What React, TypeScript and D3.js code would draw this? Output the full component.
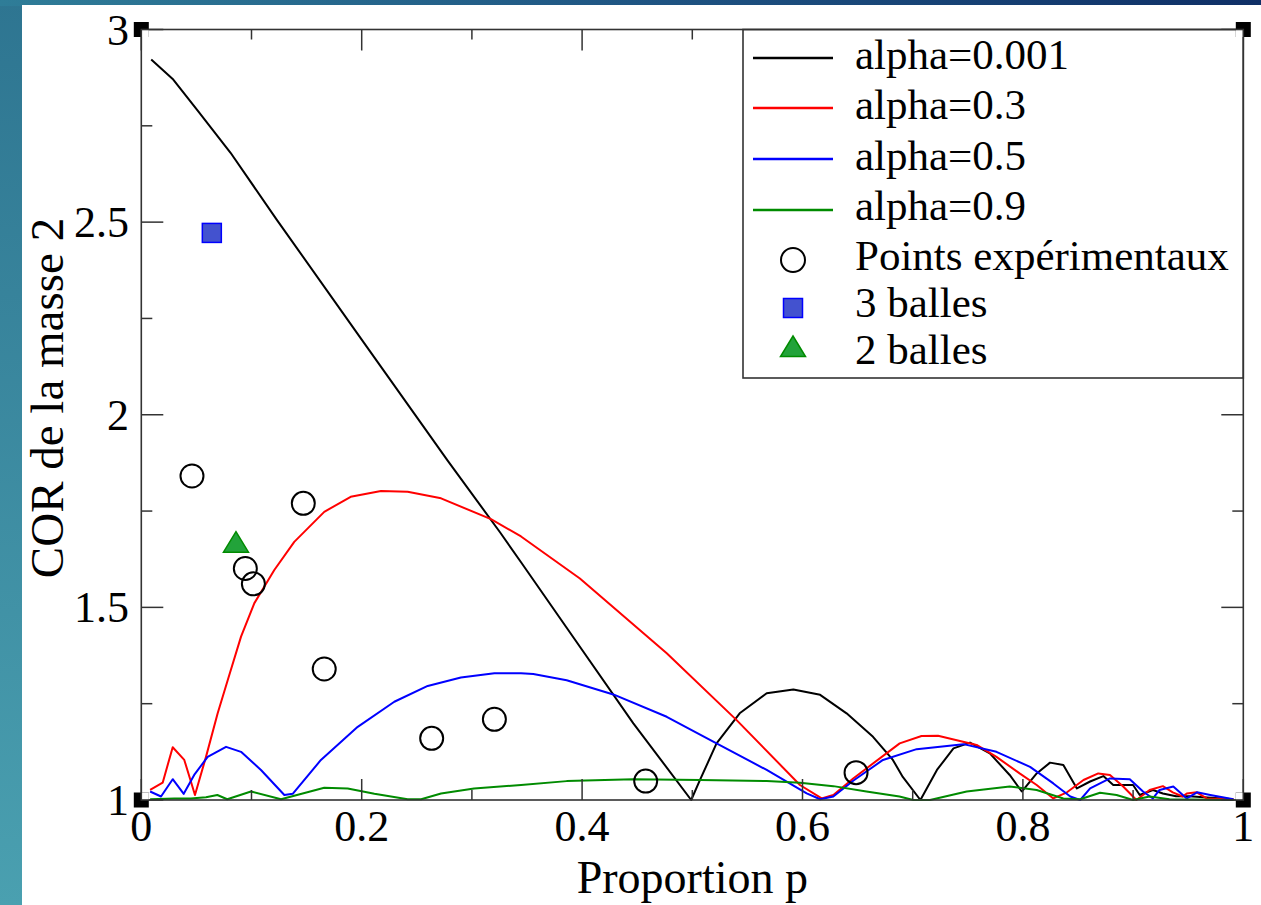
import * as d3 from "d3"

// p (proportion) / COR values
const curveAlpha0001: [number, number][] = [
  [0.009, 2.922], [0.029, 2.87], [0.051, 2.79], [0.081, 2.68], [0.123, 2.506],
  [0.2, 2.195], [0.278, 1.881], [0.3255, 1.695], [0.3446, 1.617], [0.386, 1.447],
  [0.4465, 1.199], [0.499, 1.0], [0.507, 1.052], [0.522, 1.147], [0.543, 1.225],
  [0.5675, 1.277], [0.5917, 1.287], [0.616, 1.273], [0.64, 1.225], [0.664, 1.164],
  [0.682, 1.104], [0.691, 1.06], [0.707, 1.0], [0.722, 1.078], [0.737, 1.134],
  [0.752, 1.149], [0.77, 1.121], [0.788, 1.065], [0.799, 1.022], [0.8125, 1.069],
  [0.8246, 1.097], [0.8367, 1.091], [0.849, 1.03], [0.861, 1.048], [0.873, 1.062],
  [0.882, 1.039], [0.9, 1.039], [0.906, 1.013], [0.918, 1.026], [0.927, 1.017],
  [0.939, 1.01], [0.951, 1.01], [0.964, 1.007], [0.991, 1.002],
]

const curveAlpha03: [number, number][] = [
  [0.008, 1.026], [0.0194, 1.045], [0.0285, 1.137], [0.039, 1.104], [0.045, 1.048],
  [0.0487, 1.013], [0.0587, 1.112], [0.0693, 1.225], [0.0784, 1.311], [0.0905, 1.424],
  [0.1026, 1.511], [0.1207, 1.597], [0.1388, 1.67], [0.166, 1.748], [0.19, 1.787],
  [0.2175, 1.802], [0.2417, 1.8], [0.272, 1.783], [0.3173, 1.729], [0.3446, 1.684],
  [0.398, 1.575], [0.4768, 1.381], [0.54, 1.208], [0.5977, 1.039], [0.6174, 1.004],
  [0.628, 1.013], [0.646, 1.056], [0.6882, 1.147], [0.708, 1.166], [0.723, 1.167],
  [0.758, 1.143], [0.776, 1.112], [0.797, 1.069], [0.8125, 1.039], [0.8276, 1.004],
  [0.84, 1.02], [0.855, 1.052], [0.8684, 1.069], [0.879, 1.065], [0.891, 1.035],
  [0.903, 1.0], [0.915, 1.026], [0.927, 1.036], [0.936, 1.02], [0.945, 1.009],
  [0.9487, 1.017], [0.9577, 1.02], [0.9668, 1.004], [0.991, 1.002],
]

const curveAlpha05: [number, number][] = [
  [0.008, 1.022], [0.0179, 1.009], [0.0285, 1.054], [0.0385, 1.016], [0.048, 1.065],
  [0.0602, 1.112], [0.0769, 1.138], [0.0905, 1.125], [0.1086, 1.078], [0.1298, 1.013],
  [0.1374, 1.016], [0.163, 1.104], [0.1964, 1.19], [0.2296, 1.255], [0.2599, 1.296],
  [0.29, 1.318], [0.3204, 1.329], [0.3446, 1.329], [0.3557, 1.327], [0.386, 1.311],
  [0.4283, 1.274], [0.4768, 1.216], [0.522, 1.147], [0.5675, 1.078], [0.6038, 1.017],
  [0.616, 1.002], [0.628, 1.009], [0.646, 1.05], [0.673, 1.104], [0.7036, 1.132],
  [0.746, 1.145], [0.776, 1.125], [0.8065, 1.086], [0.8276, 1.043], [0.843, 1.009],
  [0.852, 1.0], [0.861, 1.03], [0.879, 1.056], [0.897, 1.054], [0.909, 1.022],
  [0.918, 1.004], [0.924, 1.026], [0.9365, 1.035], [0.9487, 1.004], [0.958, 1.02],
  [0.97, 1.013], [0.991, 1.002],
]

const curveAlpha09: [number, number][] = [
  [0.008, 1.002], [0.03, 1.004], [0.045, 1.004], [0.0587, 1.007], [0.069, 1.013],
  [0.078, 1.002], [0.0995, 1.022], [0.1268, 1.002], [0.166, 1.032], [0.1873, 1.03],
  [0.2115, 1.016], [0.2417, 1.002], [0.254, 1.002], [0.272, 1.017], [0.302, 1.03],
  [0.3446, 1.039], [0.386, 1.049], [0.4465, 1.054], [0.507, 1.052], [0.5675, 1.049],
  [0.5977, 1.045], [0.628, 1.036], [0.658, 1.022], [0.688, 1.009], [0.7005, 1.0],
  [0.7157, 1.0], [0.749, 1.022], [0.788, 1.035], [0.8125, 1.026], [0.8367, 1.004],
  [0.852, 1.002], [0.87, 1.019], [0.885, 1.013], [0.9, 1.0], [0.915, 1.009],
  [0.933, 1.002], [0.991, 1.0],
]

const pointsExp: [number, number][] = [
  [0.046, 1.841], [0.147, 1.77], [0.0944, 1.601], [0.1017, 1.561], [0.166, 1.34],
  [0.2635, 1.16], [0.3204, 1.2095], [0.4577, 1.049], [0.6486, 1.071],
]
const points3Balles: [number, number][] = [[0.064, 2.472]]
const points2Balles: [number, number][] = [[0.0859, 1.668]]

const xTicks = [0, 0.1, 0.2, 0.3, 0.4, 0.5, 0.6, 0.7, 0.8, 0.9, 1]
const xTickLabels = ["0", "", "0.2", "", "0.4", "", "0.6", "", "0.8", "", "1"]
const yTicks = [1, 1.25, 1.5, 1.75, 2, 2.25, 2.5, 2.75, 3]
const yTickLabels = ["1", "", "1.5", "", "2", "", "2.5", "", "3"]

const lineSeries = [
  { name: "alpha=0.001", color: "#000000", data: curveAlpha0001 },
  { name: "alpha=0.3", color: "#ff0000", data: curveAlpha03 },
  { name: "alpha=0.5", color: "#0000ff", data: curveAlpha05 },
  { name: "alpha=0.9", color: "#008b00", data: curveAlpha09 },
]

const W = 1261
const H = 905
const left = 141.3
const right = 1243.3
const top = 29.5
const bottom = 800
const FONT = "'Liberation Serif', 'Times New Roman', serif"
const AXIS = "#333"

function Triangle({ cx, cy }: { cx: number; cy: number }) {
  const pts = [[cx, cy - 11], [cx + 12.5, cy + 9.5], [cx - 12.5, cy + 9.5]]
  return <polygon points={pts.map(p => p.join(",")).join(" ")} fill="#22a33a" stroke="#008b00" strokeWidth={1.5} />
}

function Square({ cx, cy }: { cx: number; cy: number }) {
  return <rect x={cx - 9.5} y={cy - 9.5} width={19} height={19} fill="#4352cf" stroke="#0000ff" strokeWidth={1.5} />
}

export default function App() {
  const x = d3.scaleLinear().domain([0, 1]).range([left, right])
  const y = d3.scaleLinear().domain([1, 3]).range([bottom, top])
  const line = d3.line<[number, number]>().x(d => x(d[0])).y(d => y(d[1]))

  const corners = [
    { cx: left, cy: top, sx: 1, sy: 1 },
    { cx: right, cy: top, sx: -1, sy: 1 },
    { cx: left, cy: bottom, sx: 1, sy: -1 },
    { cx: right, cy: bottom, sx: -1, sy: -1 },
  ]

  // legend layout
  const lgX = 743, lgY = top, lgW = right - 743, lgH = 378 - top
  const rowY = [58, 108, 159, 210, 260, 308, 347]
  const textY = [69, 119, 170, 220, 270, 317, 364]
  const textX = 855

  return (
    <svg width={W} height={H} style={{ position: "absolute", left: 0, top: 0 }} fontFamily={FONT}>
      <defs>
        <linearGradient id="topband" x1="0" x2="1" y1="0" y2="0">
          <stop offset="0" stopColor="#2f7d98" />
          <stop offset="0.5" stopColor="#1f5583" />
          <stop offset="1" stopColor="#0f2f66" />
        </linearGradient>
        <linearGradient id="leftband" x1="0" x2="0" y1="0" y2="1">
          <stop offset="0" stopColor="#2e7591" />
          <stop offset="1" stopColor="#4aa0b0" />
        </linearGradient>
      </defs>
      <rect x={0} y={0} width={W} height={H} fill="url(#leftband)" />
      <rect x={0} y={0} width={W} height={6} fill="url(#topband)" />
      <rect x={22} y={5} width={W - 22} height={H - 5} fill="#ffffff" />

      {/* curves */}
      {lineSeries.map(s => (
        <path key={s.name} d={line(s.data) ?? ""} fill="none" stroke={s.color} strokeWidth={2} strokeLinejoin="round" />
      ))}

      {/* markers */}
      {pointsExp.map((d, i) => (
        <circle key={i} cx={x(d[0])} cy={y(d[1])} r={11.5} fill="none" stroke="#000" strokeWidth={2} />
      ))}
      {points3Balles.map((d, i) => <Square key={i} cx={x(d[0])} cy={y(d[1])} />)}
      {points2Balles.map((d, i) => <Triangle key={i} cx={x(d[0])} cy={y(d[1])} />)}

      {/* ticks */}
      {xTicks.map((t, i) => {
        const len = i % 2 === 0 ? 21 : 10
        return (
          <g key={"x" + t} stroke={AXIS} strokeWidth={1.5}>
            <line x1={x(t)} x2={x(t)} y1={bottom} y2={bottom - len} />
            <line x1={x(t)} x2={x(t)} y1={top} y2={top + len} />
          </g>
        )
      })}
      {yTicks.map((t, i) => {
        const len = i % 2 === 0 ? 22 : 11
        return (
          <g key={"y" + t} stroke={AXIS} strokeWidth={1.5}>
            <line x1={left} x2={left + len} y1={y(t)} y2={y(t)} />
            <line x1={right} x2={right - len} y1={y(t)} y2={y(t)} />
          </g>
        )
      })}

      {/* legend */}
      <rect x={lgX} y={lgY} width={lgW} height={lgH} fill="#fff" stroke={AXIS} strokeWidth={1.6} />
      {lineSeries.map((s, i) => (
        <g key={s.name}>
          <line x1={753} x2={833} y1={rowY[i]} y2={rowY[i]} stroke={s.color} strokeWidth={2.5} />
          <text x={textX} y={textY[i]} fontSize={43} fill="#000">{s.name}</text>
        </g>
      ))}
      <circle cx={793} cy={rowY[4]} r={12} fill="none" stroke="#000" strokeWidth={2} />
      <text x={textX} y={textY[4]} fontSize={43} fill="#000">Points expérimentaux</text>
      <Square cx={793} cy={rowY[5]} />
      <text x={textX} y={textY[5]} fontSize={43} fill="#000">3 balles</text>
      <Triangle cx={793} cy={rowY[6]} />
      <text x={textX} y={textY[6]} fontSize={43} fill="#000">2 balles</text>

      {/* frame + corner handles */}
      {corners.map((c, i) => (
        <g key={i}>
          <rect x={c.cx - 7.5} y={c.cy - 7.5} width={15} height={15} fill="#000" />
          <rect x={c.sx > 0 ? c.cx : c.cx - 7.5} y={c.sy > 0 ? c.cy : c.cy - 7.5} width={7.5} height={7.5} fill="#fff" />
        </g>
      ))}
      <rect x={left} y={top} width={right - left} height={bottom - top} fill="none" stroke={AXIS} strokeWidth={1.6} />

      {/* tick labels */}
      {xTicks.map((t, i) => xTickLabels[i] && (
        <text key={"xl" + t} x={x(t)} y={841} fontSize={44} textAnchor="middle" fill="#000">{xTickLabels[i]}</text>
      ))}
      {yTicks.map((t, i) => yTickLabels[i] && (
        <text key={"yl" + t} x={129} y={y(t) + 15} fontSize={44} textAnchor="end" fill="#000">{yTickLabels[i]}</text>
      ))}

      {/* axis titles */}
      <text x={(left + right) / 2} y={893} fontSize={46} textAnchor="middle" fill="#000">Proportion p</text>
      <text transform={`translate(63, 398) rotate(-90)`} fontSize={47} textAnchor="middle" fill="#000">COR de la masse 2</text>
    </svg>
  )
}
